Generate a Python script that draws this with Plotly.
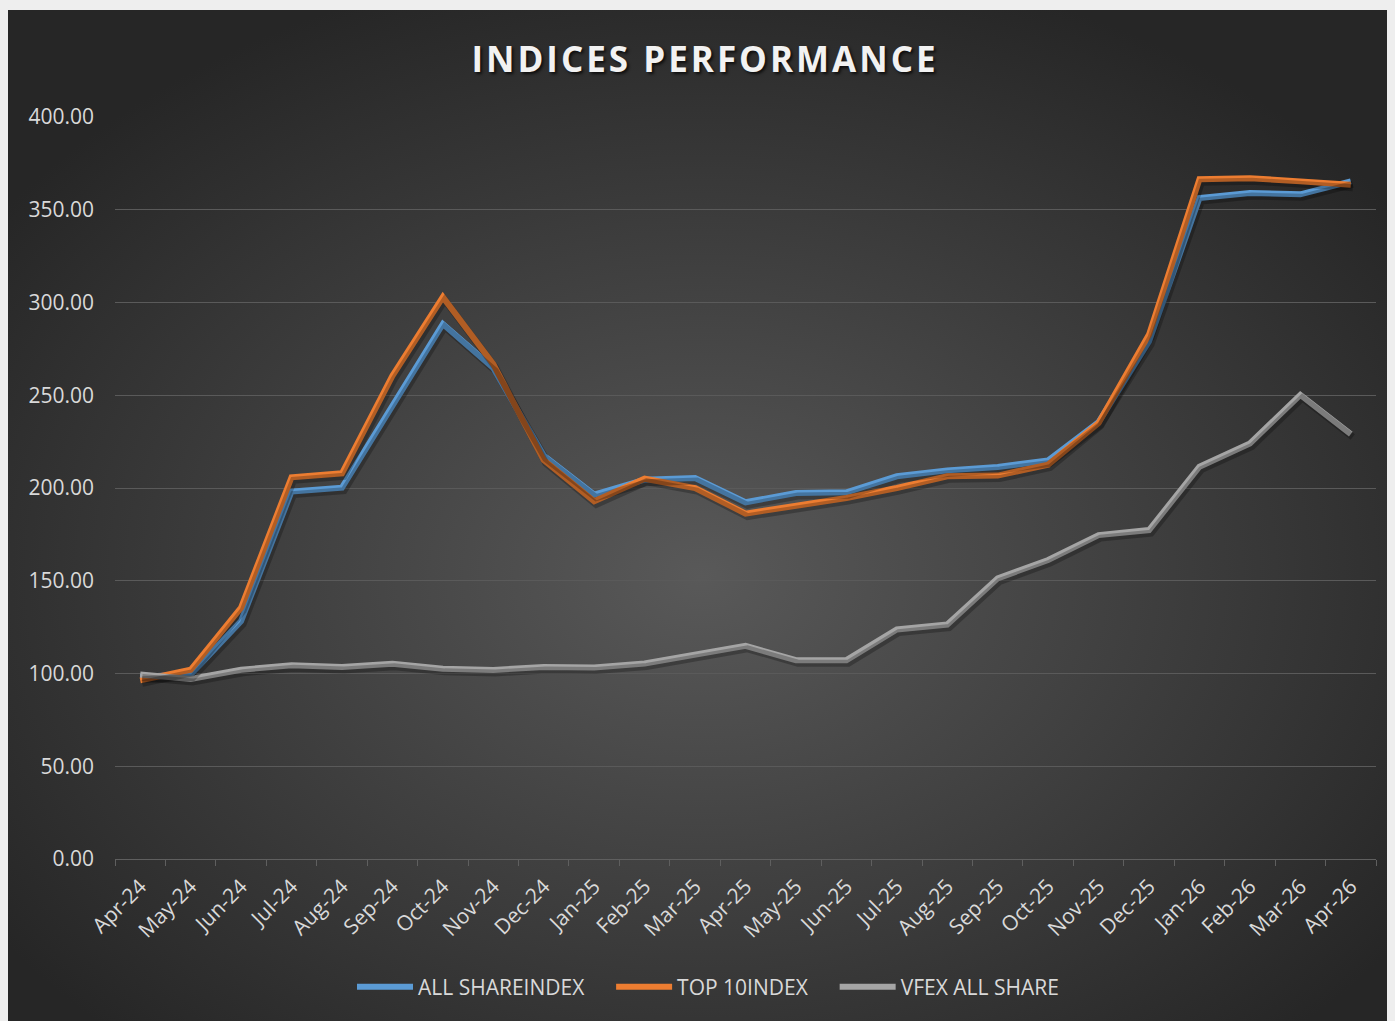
import base64
import plotly.graph_objects as go

months = ["Apr-24", "May-24", "Jun-24", "Jul-24", "Aug-24", "Sep-24", "Oct-24", "Nov-24",
          "Dec-24", "Jan-25", "Feb-25", "Mar-25", "Apr-25", "May-25", "Jun-25", "Jul-25",
          "Aug-25", "Sep-25", "Oct-25", "Nov-25", "Dec-25", "Jan-26", "Feb-26", "Mar-26", "Apr-26"]

all_share = [98.3, 99.4, 128.3, 198.1, 200.2, 244.5, 288.4, 264.7, 217.5, 196.4,
             204.5, 205.4, 192.3, 197.3, 197.7, 206.3, 209.5, 211.3, 214.9, 235.5,
             279.0, 356.3, 359.0, 358.3, 365.3]
top10 = [96.3, 102.0, 135.5, 205.8, 207.9, 260.5, 302.9, 266.8, 215.0, 192.8,
         205.0, 200.0, 186.2, 190.1, 194.6, 200.0, 206.3, 206.7, 212.6, 235.0,
         282.7, 366.5, 367.0, 365.3, 363.5]
vfex = [99.5, 97.0, 102.0, 104.5, 103.5, 105.2, 102.5, 101.9, 103.5, 103.2,
        105.4, 110.4, 114.9, 107.2, 107.2, 123.7, 126.4, 151.3, 161.2, 174.6,
        177.3, 211.5, 224.0, 250.2, 229.1]

series_names = ["ALL SHAREINDEX", "TOP 10INDEX", "VFEX ALL SHARE"]
series_colors = ["#5B9BD5", "#ED7D31", "#A5A5A5"]
y_ticks = [0, 50, 100, 150, 200, 250, 300, 350, 400]

# figure sits at page offset (8, 8) due to body margin
W, H = 1387, 1013
L, R, T, B = 107, 19, 109, 162
pw, ph = W - L - R, H - T - B
FONT = "'Open Sans', Lato, sans-serif"

TOP_GAP = 2
bw, bh = W, H - TOP_GAP
svg = f'''<svg xmlns="http://www.w3.org/2000/svg" width="{bw}" height="{bh}" viewBox="0 0 {bw} {bh}" preserveAspectRatio="none">
<defs><radialGradient id="g" cx="50%" cy="56%" r="62%" fx="50%" fy="56%">
<stop offset="0%" stop-color="#595959"/><stop offset="100%" stop-color="#262626"/></radialGradient></defs>
<rect x="0" y="0" width="{bw}" height="{bh}" fill="url(#g)"/></svg>'''
src = "data:image/svg+xml;base64," + base64.b64encode(svg.encode()).decode()

fig = go.Figure()

n = len(months)
xr = [-0.5, n - 0.5]
yr = [0, 400]
dx = 2.0 / (pw / n)
dy = 3.0 / (ph / 400)

data = [all_share, top10, vfex]
for vals in data:
    fig.add_trace(go.Scatter(x=months, y=vals, mode="lines", xaxis="x2", yaxis="y2",
                             line=dict(color="rgba(0,0,0,0.25)", width=7),
                             showlegend=False, hoverinfo="skip"))
NBSP = "\u00a0"
for i, (name, vals, col) in enumerate(zip(series_names, data, series_colors)):
    label = name + (NBSP * 4 if i < len(series_names) - 1 else "")
    fig.add_trace(go.Scatter(x=months, y=vals, mode="lines", name=label,
                             line=dict(color=col, width=6)))

fig.update_layout(
    width=W, height=H,
    margin=dict(l=L, r=R, t=T, b=B),
    paper_bgcolor="#EEEEEE",
    plot_bgcolor="rgba(0,0,0,0)",
    images=[dict(source=src, xref="paper", yref="paper",
                 x=(0 - L) / pw, y=(H - B - TOP_GAP) / ph,
                 sizex=bw / pw, sizey=bh / ph,
                 sizing="stretch", xanchor="left", yanchor="top", layer="below")],
    title=dict(text='<span style="letter-spacing:3px">INDICES PERFORMANCE</span>',
               x=(705 - 8) / W, xref="container", xanchor="center",
               y=1 - 52 / H, yref="container", yanchor="middle",
               font=dict(family="'Open Sans', sans-serif", size=35, color="#F2F2F2",
                         weight="bold", shadow="2px 2px 3px rgba(0,0,0,0.7)")),
    xaxis=dict(type="category", categoryorder="array", categoryarray=months, range=xr,
               showgrid=False, showline=True, linecolor="#5F5F5F", linewidth=1,
               ticks="outside", tickson="boundaries", ticklen=6, tickcolor="#5F5F5F",
               tickangle=-45, ticklabelstandoff=6,
               tickfont=dict(family=FONT, size=21, color="#D9D9D9"),
               zeroline=False),
    yaxis=dict(range=yr, tickvals=y_ticks, ticktext=[f"{v:.2f}" for v in y_ticks],
               showgrid=True, gridcolor="#5A5A5A", gridwidth=1, zeroline=False,
               showline=False, ticks="", ticklabelstandoff=20,
               tickfont=dict(family=FONT, size=21, color="#D9D9D9")),
    xaxis2=dict(type="category", categoryorder="array", categoryarray=months,
                range=[xr[0] - dx, xr[1] - dx], overlaying="x", visible=False),
    yaxis2=dict(range=[yr[0] + dy, yr[1] + dy], overlaying="y", visible=False),
    legend=dict(orientation="h", xref="container", yref="container", x=(708 - 8) / W,
                y=1 - 979 / H, xanchor="center", yanchor="middle", itemwidth=56,
                font=dict(family=FONT, size=21, color="#D9D9D9"),
                bgcolor="rgba(0,0,0,0)"),
    showlegend=True,
)

fig.write_html("out.html", post_script="document.body.style.background='#EEEEEE';")
